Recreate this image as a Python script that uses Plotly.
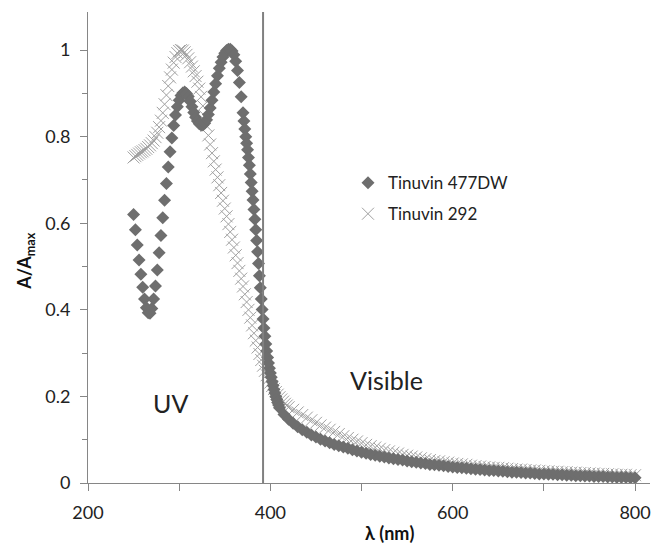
import plotly.graph_objects as go

# ---- Tinuvin 477DW (diamonds) ----
wl_477 = list(range(250, 371, 2)) + list(range(371, 411, 1)) + list(range(415, 801, 5))
a_477 = [
    0.62, 0.585, 0.55, 0.515, 0.482, 0.452, 0.425, 0.405, 0.393, 0.392,
    0.403, 0.425, 0.455, 0.492, 0.532, 0.572, 0.613, 0.653, 0.692, 0.73,
    0.765, 0.797, 0.826, 0.85, 0.869, 0.884, 0.895, 0.901, 0.903, 0.9,
    0.893, 0.882, 0.869, 0.856, 0.845, 0.836, 0.83, 0.827, 0.827, 0.831,
    0.839, 0.851, 0.866, 0.884, 0.903, 0.922, 0.941, 0.958, 0.972, 0.984,
    0.993, 0.999, 1.002, 1.002, 0.998, 0.989, 0.974, 0.953, 0.925, 0.892,
    0.855,
    0.836, 0.818, 0.80, 0.785, 0.77, 0.752, 0.734, 0.714, 0.694, 0.674,
    0.654, 0.632, 0.609, 0.585, 0.56, 0.534, 0.507, 0.479, 0.451, 0.425,
    0.401, 0.379, 0.358, 0.339, 0.321, 0.305, 0.29, 0.277, 0.265, 0.254,
    0.244, 0.234, 0.225, 0.216, 0.208, 0.2, 0.193, 0.186, 0.18, 0.174,
    0.158, 0.147, 0.138, 0.13, 0.123, 0.117, 0.111, 0.106, 0.101, 0.097,
    0.093, 0.089, 0.086, 0.083, 0.08, 0.077, 0.074, 0.071, 0.069, 0.066,
    0.064, 0.062, 0.06, 0.058, 0.056, 0.054, 0.053, 0.051, 0.049, 0.048,
    0.046, 0.045, 0.043, 0.042, 0.041, 0.04, 0.038, 0.037, 0.036, 0.035,
    0.034, 0.033, 0.032, 0.031, 0.03, 0.029, 0.029, 0.028, 0.027, 0.026,
    0.025, 0.025, 0.024, 0.023, 0.023, 0.022, 0.021, 0.021, 0.02, 0.02,
    0.019, 0.019, 0.018, 0.018, 0.017, 0.017, 0.016, 0.016, 0.015, 0.015,
    0.015, 0.014, 0.014, 0.013, 0.013, 0.013, 0.012, 0.012,
]

# ---- Tinuvin 292 (crosses) ----
wl_292 = list(range(250, 421, 2)) + list(range(425, 801, 5))
a_292 = [
    0.752, 0.755, 0.758, 0.761, 0.764, 0.766, 0.769, 0.772, 0.776, 0.78,
    0.785, 0.791, 0.799, 0.809, 0.822, 0.837, 0.855, 0.875, 0.896, 0.917,
    0.937, 0.955, 0.971, 0.984, 0.993, 0.998, 1.0, 0.999, 0.995, 0.989,
    0.981, 0.972, 0.962, 0.951, 0.94, 0.927, 0.911, 0.892, 0.871, 0.848,
    0.825, 0.803, 0.782, 0.762, 0.743, 0.724, 0.706, 0.688, 0.67, 0.652,
    0.634, 0.616, 0.598, 0.58, 0.562, 0.544, 0.526, 0.508, 0.49, 0.472,
    0.454, 0.436, 0.418, 0.4, 0.382, 0.364, 0.346, 0.329, 0.313, 0.298,
    0.284, 0.271, 0.259, 0.249, 0.24, 0.232, 0.224, 0.217, 0.21, 0.204,
    0.198, 0.193, 0.188, 0.183, 0.179, 0.175,
    0.169, 0.163, 0.157, 0.151, 0.145, 0.139, 0.133, 0.128, 0.123, 0.118,
    0.113, 0.108, 0.104, 0.1, 0.096, 0.092, 0.088, 0.085, 0.082, 0.079,
    0.076, 0.073, 0.07, 0.068, 0.065, 0.063, 0.061, 0.059, 0.057, 0.055,
    0.053, 0.051, 0.05, 0.048, 0.047, 0.045, 0.044, 0.043, 0.042, 0.04,
    0.039, 0.038, 0.037, 0.036, 0.035, 0.035, 0.034, 0.033, 0.032, 0.031,
    0.031, 0.03, 0.029, 0.029, 0.028, 0.027, 0.027, 0.026, 0.026, 0.025,
    0.025, 0.024, 0.024, 0.023, 0.023, 0.022, 0.022, 0.021, 0.021, 0.02,
    0.02, 0.019, 0.019, 0.019, 0.018, 0.018,
]

x_tick_vals = [200, 400, 600, 800]
y_tick_vals = [0, 0.2, 0.4, 0.6, 0.8, 1]
y_tick_text = ["0", "0.2", "0.4", "0.6", "0.8", "1"]
boundary_nm = 392
names = ["Tinuvin 477DW", "Tinuvin 292"]
region_labels = ["UV", "Visible"]

FONT = "Lato, 'Liberation Sans', sans-serif"
AXC = "#868686"

fig = go.Figure()
fig.add_trace(go.Scatter(
    x=wl_292, y=a_292, mode="markers", name=names[1], legendrank=2,
    legendgroup="b",
    marker=dict(symbol="x-thin", size=12, color="#a0a0a0",
                line=dict(width=1, color="#a0a0a0")),
))
fig.add_trace(go.Scatter(
    x=wl_477, y=a_477, mode="markers", name=names[0], legendrank=1,
    legendgroup="a",
    marker=dict(symbol="diamond", size=10, color="#6e6e6e",
                line=dict(width=0)),
))

fig.add_shape(type="line", xref="x", yref="y", x0=boundary_nm, x1=boundary_nm,
              y0=-0.02, y1=1.088, line=dict(color="#808080", width=2))

# region labels positioned in data coordinates
fig.add_annotation(x=291, y=0.185, xref="x", yref="y", text=region_labels[0],
                   showarrow=False, font=dict(size=25, color="#222", family=FONT))
fig.add_annotation(x=527, y=0.238, xref="x", yref="y", text=region_labels[1],
                   showarrow=False, font=dict(size=25, color="#222", family=FONT))
# axis titles
fig.add_annotation(x=531, y=0, xref="x", yref="paper", yshift=-50, yanchor="middle",
                   xanchor="center", text="<b>λ (nm)</b>",
                   showarrow=False, font=dict(size=18, color="#111", family=FONT))
fig.add_annotation(x=0, y=0.47, xref="paper", yref="paper", xshift=-62,
                   xanchor="center", yanchor="middle",
                   text="<b>A/A<sub>max</sub></b>", textangle=-90,
                   showarrow=False, font=dict(size=18, color="#111", family=FONT))

fig.update_xaxes(range=[200, 816.4], tickvals=x_tick_vals, showgrid=False,
                 automargin=False,
                 zeroline=False, showline=True, linecolor=AXC, linewidth=1,
                 ticks="outside", ticklen=7, tickcolor=AXC,
                 minor=dict(dtick=100, tick0=200, ticks="outside", ticklen=7, tickcolor=AXC, showgrid=False),
                 ticklabelstandoff=6,
                 tickfont=dict(size=18, color="#222", family=FONT))
fig.update_yaxes(range=[0, 1.088], tickvals=y_tick_vals, ticktext=y_tick_text,
                 automargin=False,
                 showgrid=False, zeroline=False, showline=True, linecolor=AXC,
                 linewidth=1, ticks="outside", ticklen=7, tickcolor=AXC,
                 minor=dict(dtick=0.1, tick0=0, ticks="outside", ticklen=5, tickcolor=AXC, showgrid=False),
                 ticklabelstandoff=6,
                 tickfont=dict(size=18, color="#222", family=FONT))

fig.update_layout(
    width=651, height=546,
    margin=dict(l=88, r=1, t=12, b=63, autoexpand=False),
    paper_bgcolor="white", plot_bgcolor="white",
    showlegend=True,
    legend=dict(x=0.4626, y=0.675, xanchor="left", yanchor="top",
                bgcolor="rgba(0,0,0,0)", tracegroupgap=6,
                font=dict(size=17, color="#222", family=FONT)),
)

fig.write_html("out.html", config={"displayModeBar": False},
               post_script="document.body.style.margin='0px';document.body.style.overflow='hidden';")
